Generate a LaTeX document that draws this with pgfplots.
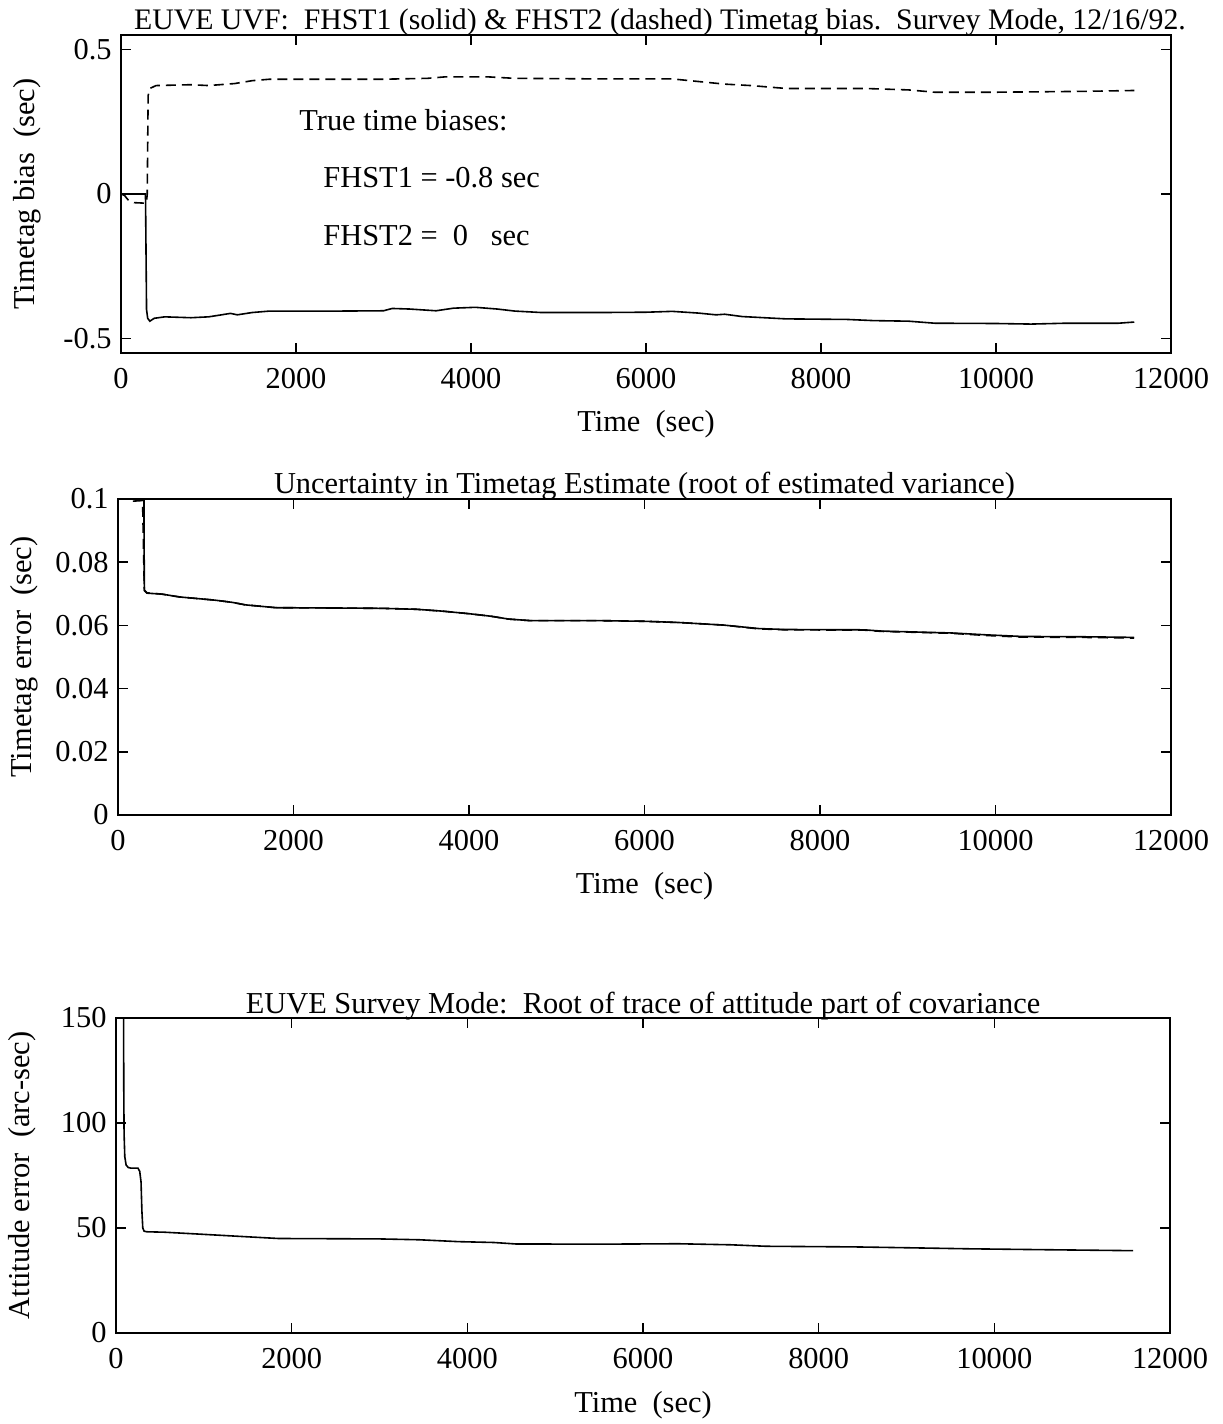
\documentclass[border=0pt]{standalone}
\usepackage{fontspec}
\setmainfont{Liberation Serif}
\usepackage{pgfplots}
\usepackage{pgfplotstable}
\pgfplotsset{compat=1.18}
\frenchspacing

\pgfplotstableread{
x y
0 0
280 0
292 -0.40
305 -0.43
330 -0.44
380 -0.43
500 -0.425
800 -0.428
1000 -0.425
1150 -0.418
1250 -0.413
1330 -0.418
1500 -0.41
1700 -0.405
2500 -0.405
3000 -0.404
3100 -0.396
3300 -0.398
3600 -0.404
3800 -0.395
4050 -0.392
4300 -0.398
4500 -0.405
4800 -0.41
5500 -0.41
6000 -0.409
6300 -0.406
6600 -0.412
6800 -0.418
6900 -0.416
7100 -0.424
7600 -0.432
8300 -0.434
8600 -0.438
9000 -0.44
9300 -0.447
10000 -0.448
10400 -0.45
10800 -0.447
11400 -0.447
11580 -0.443
}\fhstA

\pgfplotstableread{
x y
0 0
40 -0.005
80 -0.02
150 -0.03
290 -0.032
300 0.0
310 0.34
330 0.365
400 0.375
800 0.378
1000 0.375
1300 0.382
1500 0.392
1700 0.397
3000 0.397
3500 0.400
3700 0.405
4200 0.405
4500 0.400
5500 0.398
6300 0.398
6500 0.392
6900 0.380
7200 0.375
7600 0.365
8500 0.365
9000 0.360
9300 0.352
10000 0.352
11000 0.355
11580 0.358
}\fhstB

\pgfplotstableread{
x y
0 0.105
295 0.105
300 0.0710
330 0.0702
500 0.0699
700 0.0690
900 0.0685
1100 0.0680
1300 0.0673
1450 0.0665
1800 0.0656
2500 0.0655
3000 0.0654
3400 0.0651
3700 0.0645
4000 0.0637
4250 0.0629
4450 0.0620
4700 0.0615
5500 0.0615
6000 0.0613
6400 0.0609
6900 0.0601
7300 0.0590
7600 0.0587
8500 0.0586
8700 0.0582
9500 0.0576
9900 0.0570
10300 0.0565
11000 0.0564
11580 0.0562
}\errA

\pgfplotstableread{
x y
0 0.1008
90 0.1003
120 0.0996
160 0.0993
280 0.0995
300 0.0712
330 0.0703
500 0.0699
700 0.0690
900 0.0685
1100 0.0680
1300 0.0673
1450 0.0665
1800 0.0656
2500 0.0655
3000 0.0654
3400 0.0651
3700 0.0645
4000 0.0637
4250 0.0629
4450 0.0620
4700 0.0615
5500 0.0615
6000 0.0613
6400 0.0609
6900 0.0601
7300 0.0589
7600 0.0586
8500 0.0585
8700 0.0581
9500 0.0575
9900 0.0568
10300 0.0563
11000 0.0562
11580 0.0560
}\errB

\pgfplotstableread{
x y
85 200
88 120
92 95
100 84
115 80
140 78.8
170 78.5
250 78.5
270 77
285 72
295 58
305 50
320 48.5
350 48.2
550 48
900 47.2
1500 45.8
1850 45
3000 44.8
3450 44.4
3900 43.5
4300 43.1
4550 42.4
5500 42.3
6400 42.5
7000 42
7400 41.3
8400 41
9000 40.6
9700 40.1
10500 39.7
11580 39.2
}\att

\pgfplotsset{
  myaxis/.style={
    scale only axis,
    xmin=0, xmax=12000,
    scaled x ticks=false, scaled y ticks=false,
    xtick={0,2000,4000,6000,8000,10000,12000},
    xticklabels={0,2000,4000,6000,8000,10000,12000},
    tick align=inside,
    major tick length=5pt,
    tick pos=both,
    axis line style={line width=0.9pt},
    every tick/.style={black, line width=0.8pt},
    xticklabel style={anchor=north, inner sep=0pt, yshift=-7.5pt},
    yticklabel style={anchor=east, inner sep=0pt, xshift=-4.5pt},
    every axis x label/.style={at={(axis description cs:0.5,0)}, anchor=base, yshift=-39.5pt},
    every axis y label/.style={at={(axis description cs:0,0.5)}, rotate=90, anchor=base, yshift=43pt},
    every axis title/.style={at={(axis description cs:0.5,1)}, anchor=base, yshift=2.5pt},
    /pgf/number format/assume math mode=true,
  },
  solidline/.style={black, mark=none, line width=0.8pt},
  dashedline/.style={black, mark=none, line width=0.8pt, dash pattern=on 5pt off 3pt},
}

\begin{document}
\begin{tikzpicture}[font=\fontsize{15.2pt}{18pt}\selectfont]
\path[use as bounding box] (0,0) rectangle (611pt,712pt);

% Axis 1
\begin{axis}[myaxis,
  at={(60.5pt,535.5pt)}, anchor=south west,
  width=525pt, height=159pt,
  ymin=-0.55, ymax=0.55,
  ytick={-0.5,0,0.5}, yticklabels={-0.5,0,0.5},
  title style={xshift=7pt, font=\fontsize{14.9pt}{18pt}\selectfont},
  title={EUVE UVF:~ FHST1 (solid) \& FHST2 (dashed) Timetag bias.~ Survey Mode, 12/16/92.},
  xlabel={Time~ (sec)},
  ylabel={Timetag bias~ (sec)},
]
\addplot[solidline] table[x=x,y=y] {\fhstA};
\addplot[dashedline] table[x=x,y=y] {\fhstB};
\node[anchor=base west, inner sep=0pt] at (axis cs:2034,0.221) {True time biases:};
\node[anchor=base west, inner sep=0pt] at (axis cs:2309,0.024) {FHST1 = -0.8 sec};
\node[anchor=base west, inner sep=0pt] at (axis cs:2309,-0.177) {FHST2 =\ \ 0\ \ \ sec};
\end{axis}

% Axis 2
\begin{axis}[myaxis,
  at={(59pt,304.5pt)}, anchor=south west,
  width=526.5pt, height=158pt,
  ymin=0, ymax=0.1,
  ytick={0,0.02,0.04,0.06,0.08,0.1}, yticklabels={0,0.02,0.04,0.06,0.08,0.1},
  title={Uncertainty in Timetag Estimate (root of estimated variance)},
  xlabel={Time~ (sec)},
  ylabel={Timetag error~ (sec)},
]
\addplot[solidline] table[x=x,y=y] {\errA};
\addplot[dashedline] table[x=x,y=y] {\errB};
\end{axis}

% Axis 3
\begin{axis}[myaxis,
  at={(58pt,45.5pt)}, anchor=south west,
  width=527pt, height=157.5pt,
  ymin=0, ymax=150,
  ytick={0,50,100,150}, yticklabels={0,50,100,150},
  title={EUVE Survey Mode:~ Root of trace of attitude part of covariance},
  xlabel={Time~ (sec)},
  ylabel={Attitude error~ (arc-sec)},
]
\addplot[solidline] table[x=x,y=y] {\att};
\end{axis}
\end{tikzpicture}
\end{document}
